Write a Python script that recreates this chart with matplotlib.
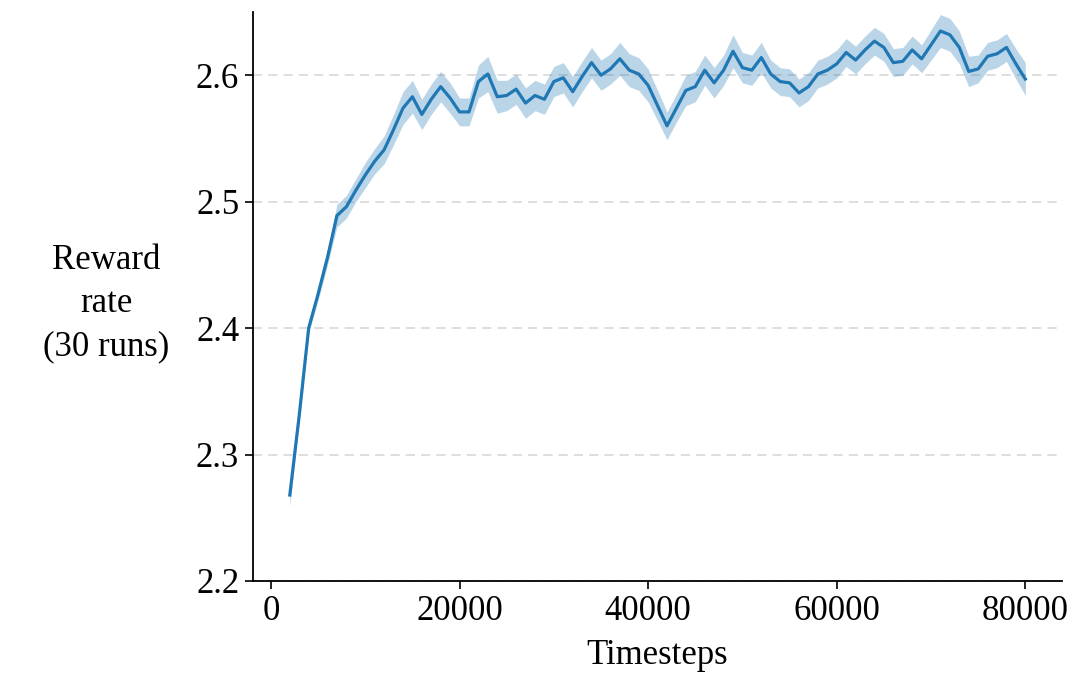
import matplotlib.pyplot as plt

plt.rcParams["font.family"] = ["Liberation Serif", "DejaVu Serif"]

# timesteps 2000..80000, one point every 1000
timesteps = list(range(2000, 81000, 1000))

reward = [
    2.268, 2.331, 2.400, 2.427, 2.456, 2.489, 2.496, 2.509, 2.521, 2.532,
    2.541, 2.557, 2.574, 2.583, 2.569, 2.581, 2.591, 2.582, 2.571, 2.571,
    2.595, 2.601, 2.583, 2.584, 2.589, 2.578, 2.584, 2.581, 2.595, 2.598,
    2.587, 2.599, 2.610, 2.600, 2.605, 2.613, 2.604, 2.601, 2.592, 2.576,
    2.560, 2.574, 2.588, 2.591, 2.604, 2.594, 2.604, 2.619, 2.606, 2.604,
    2.614, 2.601, 2.595, 2.594, 2.586, 2.591, 2.601, 2.604, 2.609, 2.618,
    2.612, 2.620, 2.627, 2.622, 2.610, 2.611, 2.620, 2.613, 2.624, 2.635,
    2.632, 2.622, 2.603, 2.605, 2.615, 2.617, 2.622, 2.609, 2.597,
]

# half width of the shaded band
spread = [
    0.009, 0.004, 0.004, 0.005, 0.006, 0.009, 0.009, 0.009, 0.010, 0.010,
    0.011, 0.012, 0.013, 0.013, 0.012, 0.012, 0.012, 0.012, 0.011, 0.011,
    0.013, 0.014, 0.013, 0.012, 0.012, 0.012, 0.012, 0.012, 0.012, 0.012,
    0.012, 0.012, 0.012, 0.012, 0.012, 0.013, 0.013, 0.013, 0.013, 0.012,
    0.011, 0.011, 0.012, 0.012, 0.012, 0.012, 0.012, 0.013, 0.012, 0.012,
    0.012, 0.011, 0.011, 0.011, 0.011, 0.011, 0.011, 0.011, 0.011, 0.011,
    0.011, 0.011, 0.011, 0.011, 0.011, 0.011, 0.011, 0.011, 0.012, 0.013,
    0.013, 0.013, 0.012, 0.011, 0.011, 0.011, 0.011, 0.012, 0.013,
]

xticks = [0, 20000, 40000, 60000, 80000]
yticks = [2.2, 2.3, 2.4, 2.5, 2.6]

lower = [r - s for r, s in zip(reward, spread)]
upper = [r + s for r, s in zip(reward, spread)]

fig = plt.figure(figsize=(10.86, 6.84), dpi=100)
ax = fig.add_axes([0.233, 0.1506, 0.745, 0.8318])

ax.fill_between(timesteps, lower, upper, color="#1f77b4", alpha=0.3, linewidth=0)
ax.plot(timesteps, reward, color="#1f77b4", linewidth=2.3)

ax.set_ylim(2.2, 2.65)
ax.set_xticks(xticks)
ax.set_yticks(yticks)
ax.set_yticklabels([f"{t:.1f}" for t in yticks])
ax.yaxis.grid(True, linestyle=(0, (6, 4)), color="#d4d4d4", linewidth=1.1)
ax.set_axisbelow(True)

for side in ["top", "right"]:
    ax.spines[side].set_visible(False)
for side in ["left", "bottom"]:
    ax.spines[side].set_linewidth(1.3)

ax.tick_params(axis="both", labelsize=25, length=6, width=1.2, pad=4)
ax.set_xlabel("Timesteps", fontsize=25, labelpad=8)
ax.set_ylabel("Reward\nrate\n(30 runs)", fontsize=25, rotation=0,
              ha="center", va="center", labelpad=0, linespacing=1.4)
ax.yaxis.set_label_coords(-0.181, 0.487)

fig.savefig("out.png", dpi=100)
